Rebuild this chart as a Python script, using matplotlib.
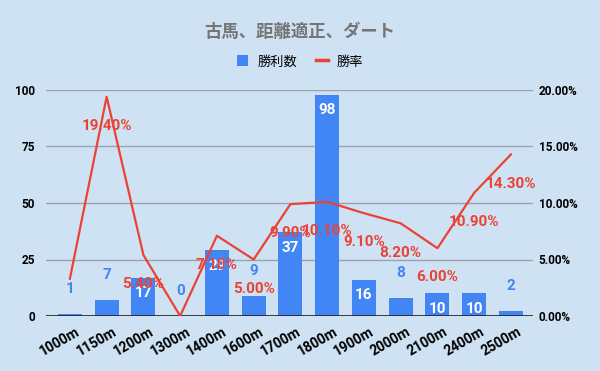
import matplotlib.pyplot as plt
import matplotlib.transforms as mtransforms
from matplotlib.ticker import FuncFormatter
from matplotlib.lines import Line2D
from matplotlib.patches import Patch

plt.rcParams['font.family'] = ['Roboto', 'Noto Sans CJK JP', 'DejaVu Sans']

distances = ['1000m', '1150m', '1200m', '1300m', '1400m', '1600m', '1700m',
             '1800m', '1900m', '2000m', '2100m', '2400m', '2500m']
wins = [1, 7, 17, 0, 29, 9, 37, 98, 16, 8, 10, 10, 2]
win_rate = [3.3, 19.4, 5.4, 0.0, 7.1, 5.0, 9.9, 10.1, 9.1, 8.2, 6.0, 10.9, 14.3]
show_rate_label = [False, True, True, False, True, True, True,
                   True, True, True, True, True, True]

bg = '#cfe2f3'
blue = '#4285f4'
red = '#ea4335'

fig = plt.figure(figsize=(6, 3.71), dpi=100, facecolor=bg)
ax = fig.add_axes([46 / 600, 55 / 371, 487 / 600, 226 / 371], facecolor=bg)
ax2 = ax.twinx()

x = list(range(len(distances)))
ax.bar(x, wins, width=0.65, color=blue, zorder=2)
ax.set_xlim(-0.65, 12.6)
ax.set_ylim(0, 100)
ax.set_yticks([0, 25, 50, 75, 100])
ax.grid(axis='y', color='#9aa3ad', linewidth=1, zorder=0)
ax.set_axisbelow(True)
for s in ax.spines.values():
    s.set_visible(False)
for s in ax2.spines.values():
    s.set_visible(False)
ax.axhline(0, color='#222222', linewidth=1.2, zorder=3)
ax.tick_params(axis='both', length=0, labelsize=8.5)
ax.tick_params(axis='y', pad=8)
for lab in ax.get_yticklabels():
    lab.set_fontweight('bold')

ax.set_xticks(x)
ax.set_xticklabels(distances, rotation=30, ha='right', rotation_mode='anchor',
                   fontweight='bold', fontsize=10)
shift = mtransforms.ScaledTranslation(4 / 72, -3 / 72, fig.dpi_scale_trans)
for lab in ax.get_xticklabels():
    lab.set_transform(lab.get_transform() + shift)

ax2.plot(x, win_rate, color=red, linewidth=1.6, zorder=4)
ax2.set_ylim(0, 20)
ax2.set_yticks([0, 5, 10, 15, 20])
ax2.yaxis.set_major_formatter(FuncFormatter(lambda v, p: f'{v:.2f}%'))
ax2.tick_params(axis='y', length=0, labelsize=8.5, pad=4)
for lab in ax2.get_yticklabels():
    lab.set_fontweight('bold')

# bar labels
for xi, v in zip(x, wins):
    if v < 10:
        ax.annotate(str(v), (xi, v), xytext=(0, 18), textcoords='offset points',
                    ha='center', va='center', color=blue, fontsize=11,
                    fontweight='bold', zorder=5)
    else:
        ax.annotate(str(v), (xi, v), xytext=(0, -11), textcoords='offset points',
                    ha='center', va='center', color='white', fontsize=11,
                    fontweight='bold', zorder=5)

# rate labels
for xi, r, show in zip(x, win_rate, show_rate_label):
    if show:
        ax2.annotate(f'{r:.2f}%', (xi, r), xytext=(0, -21), textcoords='offset points',
                     ha='center', va='center', color=red, fontsize=11,
                     fontweight='bold', zorder=6)

fig.text(0.5, 0.916, '古馬、距離適正、ダート', ha='center', va='center',
         color='#757575', fontsize=12.5, fontweight='bold')

handles = [Patch(facecolor=blue, edgecolor='none'),
           Line2D([0], [0], color=red, linewidth=2.5)]
leg = fig.legend(handles, ['勝利数', '勝率'], loc='center', bbox_to_anchor=(0.5, 0.833),
                 ncol=2, frameon=False, fontsize=9.5, handlelength=0.9,
                 handleheight=0.9, columnspacing=1.4, handletextpad=0.7)

fig.savefig('out.png', dpi=100, facecolor=bg)
